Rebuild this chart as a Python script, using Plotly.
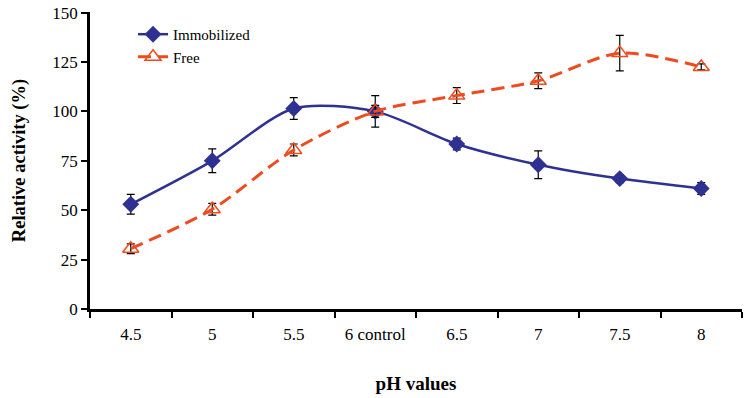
import plotly.graph_objects as go

categories = ["4.5", "5", "5.5", "6 control", "6.5", "7", "7.5", "8"]
immobilized = [53, 75, 101.5, 100, 83.5, 73, 66, 61]
immobilized_err = [5, 6, 5.5, 8, 3, 7, 2, 3]
free = [30.5, 50.5, 80.5, 100, 108, 115.5, 129.5, 122.5]
free_err = [2.5, 3, 3, 3, 4, 4, 9, 1.5]
y_ticks = [0, 25, 50, 75, 100, 125, 150]

font_family = "Liberation Serif"
navy = "#2E3192"
orange = "#EE4B1F"

fig = go.Figure()
fig.add_trace(go.Scatter(
    x=categories, y=immobilized, name="Immobilized", mode="lines+markers",
    line=dict(color=navy, width=2.5, shape="spline", smoothing=0.8),
    marker=dict(symbol="diamond", size=13, color=navy),
    error_y=dict(type="data", array=immobilized_err, color="black", thickness=1.2, width=4),
))
fig.add_trace(go.Scatter(
    x=categories, y=free, name="Free", mode="lines+markers",
    line=dict(color=orange, width=3, shape="spline", smoothing=0.8, dash="13px,7px"),
    marker=dict(symbol="triangle-up-open", size=14, color=orange, line=dict(width=1.5, color=orange)),
    error_y=dict(type="data", array=free_err, color="black", thickness=1.2, width=4),
))

fig.update_layout(
    width=746, height=398,
    margin=dict(l=90, r=4, t=7, b=89),
    paper_bgcolor="white", plot_bgcolor="white",
    font=dict(family=font_family, size=17, color="black"),
    legend=dict(x=0.066, y=0.98, xanchor="left", yanchor="top",
                bgcolor="rgba(0,0,0,0)", font=dict(size=15), tracegroupgap=2),
    showlegend=True,
)
fig.update_xaxes(
    type="category", range=[-0.5, 7.5], tickson="boundaries",
    showline=True, linecolor="black", linewidth=2.5, mirror=False,
    ticks="outside", ticklen=6, tickwidth=2, tickcolor="black",
    showgrid=False, zeroline=False, ticklabelstandoff=8,
    title=dict(text="<b>pH values</b>", font=dict(size=19), standoff=34),
)
fig.update_yaxes(
    range=[0, 150.3], tickvals=y_ticks, ticklabeloverflow="allow",
    showline=True, linecolor="black", linewidth=2.5,
    ticks="outside", ticklen=6, tickwidth=2, tickcolor="black",
    showgrid=False, zeroline=False,
    title=dict(text="<b>Relative activity (%)</b>", font=dict(size=18.5), standoff=22),
)

fig.write_html("out.html", config={"displayModeBar": False},
               post_script="document.body.style.margin='0px';")
